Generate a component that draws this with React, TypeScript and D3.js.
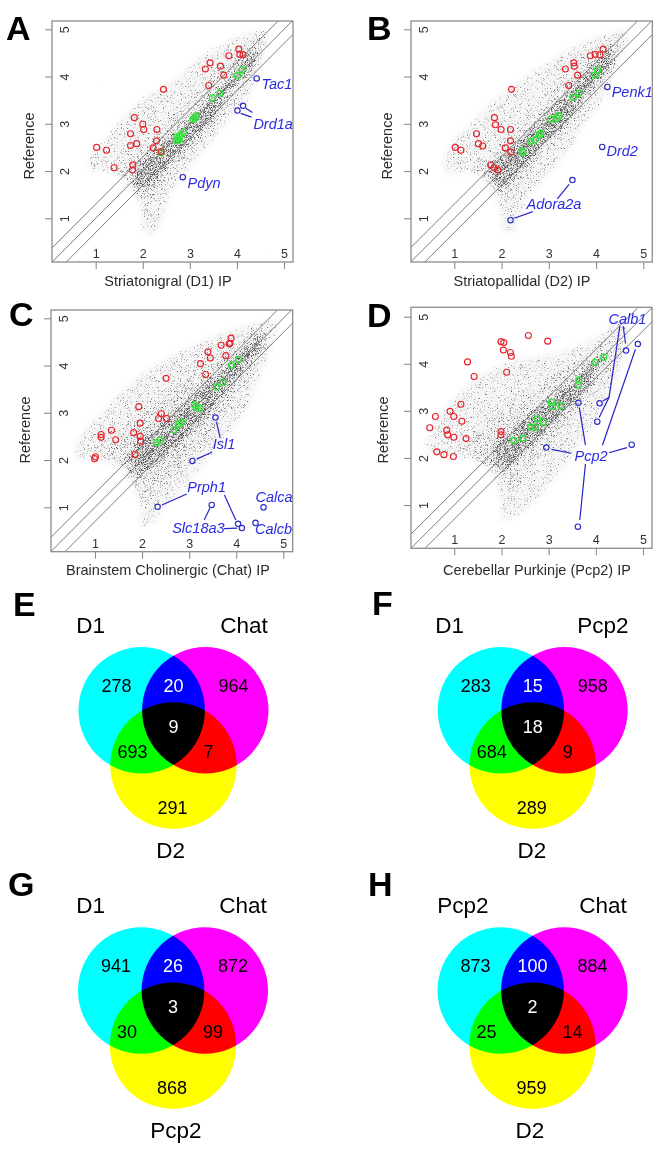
import React, { useEffect, useRef } from 'react';
import * as d3 from 'd3';

type Pt = [number, number];

const FONT = '"Liberation Sans", Arial, sans-serif';
const tickValues = [1, 2, 3, 4, 5];

// ---- panel A, values (log10 expression)
const redA: Pt[] = [[1.02,2.5],[1.23,2.44],[1.39,2.07],[1.79,2.13],[1.78,2.02],[1.74,2.54],[1.87,2.58],[1.74,2.79],[1.82,3.13],[2,2.99],[2.02,2.88],[2.3,2.88],[2.29,2.64],[2.22,2.49],[2.39,2.41],[2.44,3.73],[3.33,4.16],[3.43,4.29],[3.4,3.81],[3.65,4.22],[3.72,4.03],[3.83,4.44],[4.04,4.58],[4.06,4.47],[4.13,4.46]];
const greenA: Pt[] = [[2.39,2.39],[2.72,2.64],[2.75,2.69],[2.79,2.76],[2.86,2.82],[2.72,2.72],[2.78,2.66],[3.07,3.1],[3.14,3.17],[3.11,3.12],[3.48,3.55],[3.64,3.65],[4.01,4.02],[4.11,4.14]];
const blueA: Pt[] = [[4.42,3.96],[4.13,3.38],[4.01,3.28],[2.85,1.87]];
const labelsA: [string, number, number][] = [['Tac1',4.52,3.74],['Drd1a',4.35,2.9],['Pdyn',2.95,1.65]];
const leadersA: Pt[][] = [[[4.08,3.22],[4.31,3.14]],[[4.19,3.33],[4.33,3.24]]];
const outerA: Pt[] = [[0.85,2.05],[0.85,2.3],[1.2,2.7],[1.6,3.2],[2,3.55],[2.6,3.9],[3.3,4.5],[4,4.85],[4.6,5],[4.65,4.7],[4.5,4.2],[4.3,3.6],[3.8,3],[3.3,2.4],[2.9,1.9],[2.6,1.5],[2.4,0.9],[2.2,0.65],[1.95,0.75],[2,1.1],[1.8,1.5],[1.65,1.75],[1.3,1.95],[0.9,2]];
const midA: Pt[] = [[1.45,2],[1.9,2.4],[2.4,2.9],[2.9,3.4],[3.4,3.95],[3.9,4.45],[4.4,4.85],[4.65,4.95],[4.6,4.6],[4.3,4],[3.9,3.45],[3.4,2.8],[2.9,2.25],[2.5,1.75],[2.2,1.35],[2.1,1],[1.95,1],[1.9,1.4],[1.7,1.65]];
const coreA: Pt[] = [[1.8,2],[2.4,2.55],[3,3.1],[3.6,3.7],[4.1,4.3],[4.4,4.6],[4.35,4.2],[3.9,3.75],[3.4,3],[2.9,2.5],[2.4,1.95],[2.1,1.6],[1.9,1.65]];

// ---- panel B
const redB: Pt[] = [[1.02,2.5],[1.14,2.44],[1.47,2.79],[1.51,2.58],[1.6,2.53],[1.85,3.13],[1.87,2.98],[1.99,2.88],[2.19,2.88],[2.19,2.64],[2.08,2.49],[2.2,2.4],[1.77,2.13],[1.84,2.07],[1.92,2.02],[2.21,3.73],[3.35,4.16],[3.53,4.29],[3.54,4.22],[3.42,3.81],[3.61,4.03],[3.88,4.44],[3.98,4.47],[4.08,4.46],[4.15,4.58]];
const greenB: Pt[] = [[2.45,2.39],[2.44,2.42],[2.62,2.63],[2.71,2.66],[2.8,2.76],[2.83,2.8],[3.04,3.1],[3.17,3.12],[3.22,3.17],[3.52,3.56],[3.64,3.65],[3.98,4.03],[4.03,4.14]];
const blueB: Pt[] = [[4.24,3.78],[4.13,2.51],[3.5,1.81],[2.19,0.96]];
const labelsB: [string, number, number][] = [['Penk1',4.33,3.57],['Drd2',4.22,2.31],['Adora2a',2.53,1.2]];
const leadersB: Pt[][] = [[[2.27,1],[2.66,1.14]],[[3.18,1.41],[3.43,1.72]]];
const outerB: Pt[] = [[0.8,1.95],[0.8,2.4],[1.2,2.9],[1.7,3.4],[2.2,3.8],[2.8,4.2],[3.4,4.6],[4,4.85],[4.55,5],[4.7,4.85],[4.5,4.3],[4.2,3.6],[3.8,3],[3.4,2.4],[3,1.9],[2.6,1.45],[2.4,1],[2.2,0.65],[2,0.75],[1.95,1.2],[1.8,1.5],[1.55,1.85],[1.2,1.95]];
const midB: Pt[] = [[1.4,2.05],[1.9,2.5],[2.4,3],[2.9,3.5],[3.4,4],[3.9,4.5],[4.4,4.9],[4.55,4.55],[4.2,3.95],[3.8,3.4],[3.3,2.75],[2.8,2.2],[2.4,1.7],[2.1,1.3],[2,1.4],[1.8,1.65],[1.5,1.9]];
const coreB: Pt[] = [[1.7,2.05],[2.3,2.55],[2.9,3.15],[3.5,3.75],[4,4.3],[4.3,4.6],[4.3,4.2],[3.9,3.75],[3.4,3.05],[2.9,2.55],[2.4,2],[2,1.65],[1.85,1.75]];

// ---- panel C
const redC: Pt[] = [[0.99,2.03],[1.01,2.07],[1.13,2.54],[1.13,2.48],[1.35,2.63],[1.44,2.43],[1.82,2.58],[1.96,2.5],[1.97,2.4],[1.85,2.12],[1.96,2.78],[1.93,3.13],[2.41,2.98],[2.35,2.88],[2.52,2.88],[2.51,3.73],[3.24,4.04],[3.4,4.29],[3.45,4.16],[3.35,3.81],[3.68,4.43],[3.78,4.21],[3.85,4.46],[3.87,4.47],[3.89,4.58]];
const greenC: Pt[] = [[2.31,2.37],[2.38,2.42],[2.68,2.64],[2.78,2.76],[2.84,2.8],[3.11,3.17],[3.15,3.12],[3.23,3.1],[3.58,3.55],[3.71,3.65],[3.9,4.01],[4.05,4.13]];
const blueC: Pt[] = [[3.56,2.9],[3.07,1.98],[2.33,1.01],[3.48,1.05],[4.04,0.65],[4.12,0.56],[4.58,1],[4.41,0.67]];
const labelsC: [string, number, number][] = [['Isl1',3.5,2.23],['Prph1',2.96,1.33],['Slc18a3',2.64,0.46],['Calca',4.41,1.12],['Calcb',4.4,0.43]];
const leadersC: Pt[][] = [[[3.58,2.81],[3.66,2.47]],[[3.16,2.02],[3.49,2.17]],[[2.42,1.05],[2.95,1.28]],[[3.75,1.26],[3.99,0.73]],[[3.74,0.55],[4.02,0.56]],[[3.32,0.73],[3.44,0.98]]];
const outerC: Pt[] = [[0.6,2],[0.6,2.4],[1,2.9],[1.5,3.4],[2,3.85],[2.6,4.2],[3.2,4.5],[3.8,4.75],[4.4,4.9],[4.85,5],[4.85,4.6],[4.6,4],[4.4,3.4],[4.2,3],[3.8,2.5],[3.4,2],[3,1.5],[2.6,1.1],[2.3,0.7],[2,0.55],[1.95,1],[1.8,1.4],[1.55,1.8],[1.2,1.95],[0.8,2]];
const midC: Pt[] = [[1.2,2.05],[1.7,2.7],[2.3,3.3],[2.9,3.75],[3.5,4.1],[4.1,4.55],[4.6,4.85],[4.75,4.65],[4.4,4],[4,3.35],[3.6,2.7],[3.1,2.1],[2.6,1.6],[2.2,1.25],[2,1.1],[1.85,1.4],[1.6,1.75]];
const coreC: Pt[] = [[1.7,2.05],[2.3,2.7],[2.9,3.2],[3.6,3.8],[4.2,4.4],[4.55,4.7],[4.5,4.4],[4,3.75],[3.5,3.1],[3,2.55],[2.4,2],[2,1.7],[1.85,1.75]];

// ---- panel D
const redD: Pt[] = [[0.48,2.64],[0.6,2.88],[0.63,2.13],[0.78,2.07],[0.98,2.03],[0.84,2.59],[0.86,2.49],[0.99,2.44],[1.25,2.41],[0.91,2.99],[0.99,2.88],[1.16,2.78],[1.14,3.14],[1.28,4.04],[1.42,3.73],[1.99,2.56],[1.99,2.49],[1.99,4.47],[2.05,4.45],[2.04,4.29],[2.19,4.24],[2.21,4.16],[2.11,3.82],[2.57,4.6],[2.98,4.48]];
const greenD: Pt[] = [[2.26,2.37],[2.45,2.42],[2.62,2.66],[2.71,2.65],[2.76,2.83],[2.88,2.76],[3.06,3.18],[3.08,3.1],[3.26,3.11],[3.64,3.66],[3.63,3.55],[3.98,4.03],[4.17,4.14]];
const blueD: Pt[] = [[2.95,2.22],[4.76,2.28],[3.62,0.54],[3.63,3.17],[4.03,2.77],[4.08,3.16],[4.64,4.28],[4.89,4.42]];
const labelsD: [string, number, number][] = [['Calb1',4.27,4.84],['Pcp2',3.55,1.93]];
const leadersD: Pt[][] = [[[3.06,2.18],[3.48,2.1]],[[4.28,2.11],[4.66,2.22]],[[3.66,0.68],[3.78,1.87]],[[3.65,3.07],[3.78,2.27]],[[4.14,2.27],[4.84,4.31]],[[4.07,2.86],[4.28,3.29],[4.51,4.8]],[[4.15,3.21],[4.28,3.29]],[[4.63,4.43],[4.58,4.8]]];
const outerD: Pt[] = [[0.4,2.1],[0.4,2.4],[0.7,2.9],[1.1,3.4],[1.6,3.8],[2.3,4.1],[3,4.2],[3.6,4.4],[4.1,4.65],[4.6,5],[4.7,4.5],[4.5,3.8],[4.3,3.3],[3.9,2.6],[3.5,2],[3.1,1.5],[2.7,1.05],[2.3,0.75],[2,0.65],[1.95,1.1],[1.85,1.5],[1.6,1.8],[1.2,2],[0.6,2.05]];
const midD: Pt[] = [[1,2.1],[1.6,2.7],[2.1,3.1],[2.7,3.5],[3.3,3.9],[3.9,4.3],[4.4,4.6],[4.4,4.1],[4,3.4],[3.6,2.9],[3.1,2.3],[2.6,1.75],[2.2,1.4],[2,1.5],[1.7,1.85],[1.3,2]];
const coreD: Pt[] = [[1.8,2.1],[2.3,2.65],[2.8,3.1],[3.4,3.55],[3.9,4.05],[4.2,4.25],[4,3.8],[3.5,3.15],[3,2.65],[2.5,2.15],[2.1,1.75],[1.9,1.85]];

// venn counts: cyan only, cyan+magenta, magenta only, centre, cyan+yellow, magenta+yellow, yellow only
const vennE = [278, 20, 964, 9, 693, 7, 291];
const vennF = [283, 15, 958, 18, 684, 9, 289];
const vennG = [941, 26, 872, 3, 30, 99, 868];
const vennH = [873, 100, 884, 2, 25, 14, 959];

const scatterPanels = [
  { id: 'a', letter: 'A', lx: 6, ly: 39.5, left: 52, right: 293, top: 21, bottom: 262, x1: 95.7, x5: 284, y1: 218.3, y5: 29.3, xTitle: 'Striatonigral (D1) IP', titleX: 168, titleY: 286, refX: 33.5, refY: 146, red: redA, green: greenA, blue: blueA, labels: labelsA, leaders: leadersA, outer: outerA, mid: midA, core: coreA },
  { id: 'b', letter: 'B', lx: 367, ly: 40, left: 411, right: 652.3, top: 21, bottom: 262, x1: 454.3, x5: 643.3, y1: 218.3, y5: 29.3, xTitle: 'Striatopallidal (D2) IP', titleX: 522, titleY: 286, refX: 391.7, refY: 146, red: redB, green: greenB, blue: blueB, labels: labelsB, leaders: leadersB, outer: outerB, mid: midB, core: coreB },
  { id: 'c', letter: 'C', lx: 9, ly: 326, left: 51, right: 292.7, top: 310, bottom: 551.7, x1: 95, x5: 283.3, y1: 507.3, y5: 318.3, xTitle: 'Brainstem Cholinergic (Chat) IP', titleX: 168, titleY: 575, refX: 29.5, refY: 430, red: redC, green: greenC, blue: blueC, labels: labelsC, leaders: leadersC, outer: outerC, mid: midC, core: coreC },
  { id: 'd', letter: 'D', lx: 367, ly: 327, left: 411, right: 652, top: 307.3, bottom: 548.3, x1: 454.3, x5: 643, y1: 505, y5: 316.7, xTitle: 'Cerebellar Purkinje (Pcp2) IP', titleX: 537, titleY: 575, refX: 387.7, refY: 430, red: redD, green: greenD, blue: blueD, labels: labelsD, leaders: leadersD, outer: outerD, mid: midD, core: coreD },
];

const vennPanels = [
  { letter: 'E', lx: 13, ly: 616, cx: 173.5, cy: 710.3, counts: vennE, names: ['D1', 'Chat', 'D2'], pairDx: [-41, 35], nameY: [633, 633, 858], nameX: [90.7, 244, 170.7] },
  { letter: 'F', lx: 372, ly: 615, cx: 532.7, cy: 710.3, counts: vennF, names: ['D1', 'Pcp2', 'D2'], pairDx: [-41, 35], nameY: [633, 633, 858], nameX: [449.7, 603, 532] },
  { letter: 'G', lx: 8, ly: 896, cx: 173, cy: 990.5, counts: vennG, names: ['D1', 'Chat', 'Pcp2'], pairDx: [-46, 40], nameY: [913, 913, 1138], nameX: [90.7, 243, 176] },
  { letter: 'H', lx: 368, ly: 896, cx: 532.5, cy: 990.5, counts: vennH, names: ['Pcp2', 'Chat', 'D2'], pairDx: [-46, 40], nameY: [913, 913, 1138], nameX: [463, 603, 530] },
];

const App = () => {
  const ref = useRef<SVGSVGElement>(null);

  useEffect(() => {
    const svg = d3.select(ref.current);
    svg.selectAll('*').remove();
    const defs = svg.append('defs');

    scatterPanels.forEach((p, idx) => {
      const x = d3.scaleLinear().domain([1, 5]).range([p.x1, p.x5]);
      const y = d3.scaleLinear().domain([1, 5]).range([p.y1, p.y5]);
      const line = d3.line<Pt>().x(d => x(d[0])).y(d => y(d[1]));
      const g = svg.append('g');

      defs.append('clipPath').attr('id', `clip-${p.id}`).append('rect')
        .attr('x', p.left).attr('y', p.top).attr('width', p.right - p.left).attr('height', p.bottom - p.top);

      // stipple filter: the blurred density bands decide how many grains of the noise show
      const f = defs.append('filter').attr('id', `stipple-${p.id}`)
        .attr('filterUnits', 'userSpaceOnUse')
        .attr('x', p.left).attr('y', p.top).attr('width', p.right - p.left).attr('height', p.bottom - p.top)
        .attr('color-interpolation-filters', 'sRGB');
      f.append('feGaussianBlur').attr('in', 'SourceGraphic').attr('stdDeviation', 2.5).attr('result', 'density');
      f.append('feTurbulence').attr('type', 'fractalNoise').attr('baseFrequency', 1.3).attr('numOctaves', 2).attr('seed', idx + 3).attr('result', 'n');
      f.append('feColorMatrix').attr('in', 'n').attr('type', 'matrix')
        .attr('values', '0 0 0 0 0  0 0 0 0 0  0 0 0 0 0  1 0 0 0 0').attr('result', 'grain');
      f.append('feComposite').attr('in', 'density').attr('in2', 'grain').attr('operator', 'arithmetic')
        .attr('k1', 0).attr('k2', 1).attr('k3', 1).attr('k4', -0.88).attr('result', 'dots');
      const ct = f.append('feComponentTransfer').attr('in', 'dots').attr('result', 'hard');
      ct.append('feFuncA').attr('type', 'linear').attr('slope', 4);
      f.append('feComposite').attr('in', 'density').attr('in2', 'hard').attr('operator', 'arithmetic')
        .attr('k1', 0).attr('k2', 0.12).attr('k3', 0.62).attr('k4', 0);

      const plot = g.append('g').attr('clip-path', `url(#clip-${p.id})`);
      const cloud = plot.append('g').attr('filter', `url(#stipple-${p.id})`);
      ([[p.outer, 0.28], [p.mid, 0.07], [p.core, 0.2]] as [Pt[], number][]).forEach(([band, o]) => {
        cloud.append('path').attr('d', line.curve(d3.curveCatmullRomClosed.alpha(0.5))(band)).attr('fill', '#000').attr('fill-opacity', o);
      });
      line.curve(d3.curveLinear);

      // y = x and the two-fold lines
      [-0.3, 0, 0.3].forEach(o => {
        plot.append('path').attr('d', line([[-1, -1 + o], [7, 7 + o]])).attr('fill', 'none').attr('stroke', '#6e6e6e').attr('stroke-width', 0.9);
      });

      const dots = (pts: Pt[], color: string, r: number, sw: number) => {
        plot.append('g').selectAll('circle').data(pts).enter().append('circle')
          .attr('cx', d => x(d[0])).attr('cy', d => y(d[1])).attr('r', r)
          .attr('fill', 'none').attr('stroke', color).attr('stroke-width', sw);
      };
      dots(p.green, '#2ee636', 3, 1.3);
      dots(p.red, '#e8232b', 3, 1.15);
      dots(p.blue, '#2b2bc8', 2.7, 1.15);

      p.leaders.forEach(l => {
        g.append('path').attr('d', line(l)).attr('fill', 'none').attr('stroke', '#2424c8').attr('stroke-width', 1.2);
      });
      g.append('g').selectAll('text').data(p.labels).enter().append('text')
        .attr('x', d => x(d[1])).attr('y', d => y(d[2])).text(d => d[0])
        .attr('font-family', FONT).attr('font-size', 14.5).attr('font-style', 'italic').attr('fill', '#2a2ae6');

      // box and axes, R style with the labels sitting inside the frame
      g.append('rect').attr('x', p.left).attr('y', p.top).attr('width', p.right - p.left).attr('height', p.bottom - p.top)
        .attr('fill', 'none').attr('stroke', '#8c8c8c').attr('stroke-width', 1.3);
      const ax = g.append('g').attr('transform', `translate(0,${p.bottom})`)
        .call(d3.axisBottom(x).tickValues(tickValues).tickSize(7).tickFormat(d3.format('d')));
      ax.select('.domain').remove();
      ax.selectAll('line').attr('stroke', '#8c8c8c').attr('stroke-width', 1.1);
      ax.selectAll('text').attr('y', -8.5).attr('dy', '0.35em').attr('font-family', FONT).attr('font-size', 12.5).attr('fill', '#333');
      const ay = g.append('g').attr('transform', `translate(${p.left},0)`)
        .call(d3.axisLeft(y).tickValues(tickValues).tickSize(7).tickFormat(d3.format('d')));
      ay.select('.domain').remove();
      ay.selectAll('line').attr('stroke', '#8c8c8c').attr('stroke-width', 1.1);
      ay.selectAll('text').attr('x', 0).attr('y', 0).attr('dy', 0).attr('text-anchor', 'middle')
        .attr('transform', 'translate(13,0) rotate(-90)').attr('dominant-baseline', 'central')
        .attr('font-family', FONT).attr('font-size', 12.5).attr('fill', '#333');

      g.append('text').attr('x', p.titleX).attr('y', p.titleY).attr('text-anchor', 'middle').text(p.xTitle)
        .attr('font-family', FONT).attr('font-size', 14.5).attr('fill', '#2b2b2b');
      g.append('text').attr('transform', `translate(${p.refX},${p.refY}) rotate(-90)`).attr('text-anchor', 'middle').text('Reference')
        .attr('font-family', FONT).attr('font-size', 14.5).attr('fill', '#2b2b2b');
      g.append('text').attr('x', p.lx).attr('y', p.ly).text(p.letter)
        .attr('font-family', FONT).attr('font-size', 34).attr('font-weight', 'bold').attr('fill', '#000');
    });

    vennPanels.forEach(p => {
      const g = svg.append('g');
      const circles = [
        { dx: -31.8, dy: 0, c: '#00ffff' },
        { dx: 31.8, dy: 0, c: '#ff00ff' },
        { dx: 0, dy: 55.2, c: '#ffff00' },
      ];
      g.selectAll('circle').data(circles).enter().append('circle')
        .attr('cx', d => p.cx + d.dx).attr('cy', d => p.cy + d.dy).attr('r', 63.2)
        .attr('fill', d => d.c).style('mix-blend-mode', 'multiply');
      const spots = [
        { dx: -57, dy: -25, c: '#000' },
        { dx: 0, dy: -25, c: '#fff' },
        { dx: 60, dy: -25, c: '#000' },
        { dx: 0, dy: 16.4, c: '#fff' },
        { dx: p.pairDx[0], dy: 41, c: '#000' },
        { dx: p.pairDx[1], dy: 41, c: '#000' },
        { dx: -1, dy: 97, c: '#000' },
      ];
      g.selectAll('text.count').data(p.counts).enter().append('text').attr('class', 'count')
        .attr('x', (_, i) => p.cx + spots[i].dx).attr('y', (_, i) => p.cy + spots[i].dy)
        .attr('dy', '0.35em').attr('text-anchor', 'middle').text(d => d)
        .attr('fill', (_, i) => spots[i].c).attr('font-family', FONT).attr('font-size', 18);
      g.selectAll('text.name').data(p.names).enter().append('text').attr('class', 'name')
        .attr('x', (_, i) => p.nameX[i]).attr('y', (_, i) => p.nameY[i]).attr('text-anchor', 'middle').text(d => d)
        .attr('font-family', FONT).attr('font-size', 22.5).attr('fill', '#000');
      g.append('text').attr('x', p.lx).attr('y', p.ly).text(p.letter)
        .attr('font-family', FONT).attr('font-size', 34).attr('font-weight', 'bold').attr('fill', '#000');
    });
  }, []);

  return <svg ref={ref} width={664} height={1156} style={{ position: 'absolute', left: 0, top: 0, display: 'block', background: '#fff' }} />;
};

export default App;
